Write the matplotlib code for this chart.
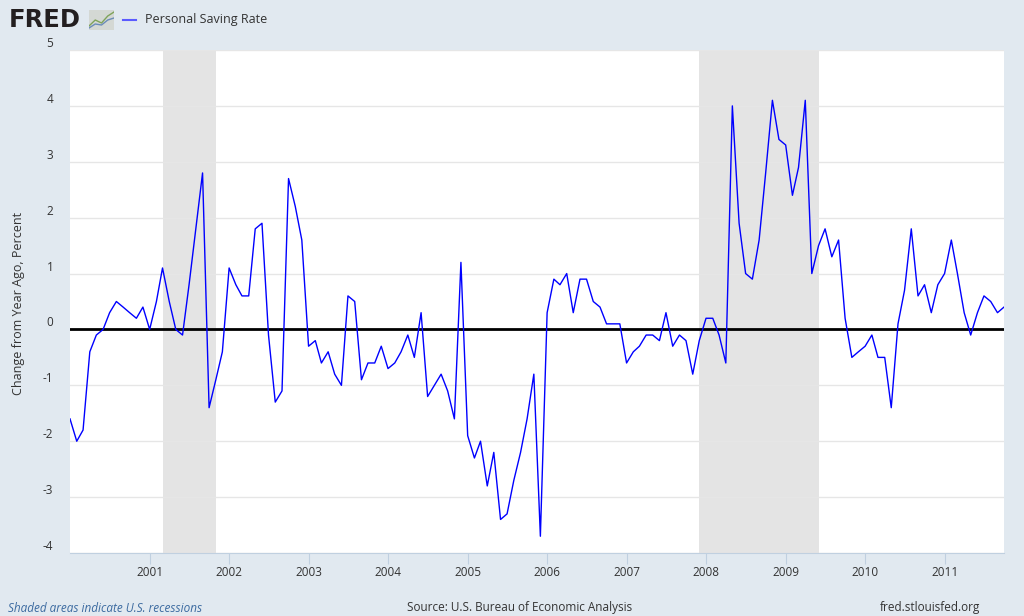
import matplotlib
matplotlib.use("Agg")
import matplotlib.pyplot as plt
import matplotlib.dates as mdates
import pandas as pd

# monthly values, Jan 2000 - Oct 2011
v2000 = [-1.6, -2.0, -1.8, -0.4, -0.1, 0.0, 0.3, 0.5, 0.4, 0.3, 0.2, 0.4]
v2001 = [0.0, 0.5, 1.1, 0.5, 0.0, -0.1, 0.8, 1.8, 2.8, -1.4, -0.9, -0.4]
v2002 = [1.1, 0.8, 0.6, 0.6, 1.8, 1.9, -0.1, -1.3, -1.1, 2.7, 2.2, 1.6]
v2003 = [-0.3, -0.2, -0.6, -0.4, -0.8, -1.0, 0.6, 0.5, -0.9, -0.6, -0.6, -0.3]
v2004 = [-0.7, -0.6, -0.4, -0.1, -0.5, 0.3, -1.2, -1.0, -0.8, -1.1, -1.6, 1.2]
v2005 = [-1.9, -2.3, -2.0, -2.8, -2.2, -3.4, -3.3, -2.7, -2.2, -1.6, -0.8, -3.7]
v2006 = [0.3, 0.9, 0.8, 1.0, 0.3, 0.9, 0.9, 0.5, 0.4, 0.1, 0.1, 0.1]
v2007 = [-0.6, -0.4, -0.3, -0.1, -0.1, -0.2, 0.3, -0.3, -0.1, -0.2, -0.8, -0.2]
v2008 = [0.2, 0.2, -0.1, -0.6, 4.0, 1.9, 1.0, 0.9, 1.6, 2.8, 4.1, 3.4]
v2009 = [3.3, 2.4, 2.9, 4.1, 1.0, 1.5, 1.8, 1.3, 1.6, 0.2, -0.5, -0.4]
v2010 = [-0.3, -0.1, -0.5, -0.5, -1.4, 0.1, 0.7, 1.8, 0.6, 0.8, 0.3, 0.8]
v2011 = [1.0, 1.6, 1.0, 0.3, -0.1, 0.3, 0.6, 0.5, 0.3, 0.4]

values = (v2000 + v2001 + v2002 + v2003 + v2004 + v2005 + v2006 + v2007
          + v2008 + v2009 + v2010 + v2011)
dates = pd.date_range("2000-01-01", periods=len(values), freq="MS")

recessions = [("2001-03-01", "2001-11-01"), ("2007-12-01", "2009-06-01")]
years = list(range(2001, 2012))
yticks = [-4, -3, -2, -1, 0, 1, 2, 3, 4, 5]

bg = "#e1e9f0"
txt = "#333333"
plt.rcParams["font.family"] = ["Open Sans", "DejaVu Sans"]

fig = plt.figure(figsize=(10.24, 6.16), dpi=100, facecolor=bg)
ax = fig.add_axes([70 / 1024, 63 / 616, 934 / 1024, 503 / 616])
ax.set_facecolor("white")

for start, end in recessions:
    ax.axvspan(pd.Timestamp(start), pd.Timestamp(end), color="#e4e4e4", lw=0, zorder=1)

ax.axhline(0, color="black", lw=2, zorder=3)
ax.plot(dates, values, color="#0000ff", lw=1, zorder=4)

ax.set_xlim(pd.Timestamp("2000-01-01"), pd.Timestamp("2011-10-01"))
ax.set_ylim(-4, 5)
ax.set_yticks(yticks)
ax.set_yticklabels([str(t) for t in yticks], fontsize=8.5, color=txt, va="bottom")
ax.grid(axis="y", color="#e6e6e6", lw=1, zorder=0)
ax.tick_params(axis="y", length=0, pad=12)

ax.set_xticks([pd.Timestamp(f"{y}-01-01") for y in years])
ax.xaxis.set_major_formatter(mdates.DateFormatter("%Y"))
ax.tick_params(axis="x", length=8, color="#c0d0e0", labelsize=8.5, labelcolor=txt, pad=1)

for s in ["top", "right", "left"]:
    ax.spines[s].set_visible(False)
ax.spines["bottom"].set_color("#c0d0e0")

fig.text(19 / 1024, 1 - 303 / 616, "Change from Year Ago, Percent", rotation=90,
         ha="center", va="center", fontsize=9, color=txt)

# FRED logo and legend
fig.text(9 / 1024, 1 - 20 / 616, "FRED", fontsize=17.5, fontweight="bold",
         family="DejaVu Sans", color="#231f20", va="center", ha="left")
icon = fig.add_axes([89 / 1024, 1 - 30 / 616, 25 / 1024, 20 / 616])
icon.set_facecolor("#d4d8d4")
icon.plot([0, 1, 2, 3, 4], [0.2, 0.5, 0.35, 0.7, 0.9], color="#7fa35a", lw=1)
icon.plot([0, 1, 2, 3, 4], [0.1, 0.3, 0.25, 0.5, 0.6], color="#6b8cb8", lw=1)
icon.set_xlim(0, 4)
icon.set_ylim(0, 1)
icon.set_xticks([])
icon.set_yticks([])
for s in icon.spines.values():
    s.set_visible(False)

fig.lines.append(plt.Line2D([123 / 1024, 136 / 1024], [1 - 20 / 616, 1 - 20 / 616],
                            color="#5b5bff", lw=1.5, transform=fig.transFigure))
fig.text(145 / 1024, 1 - 20 / 616, "Personal Saving Rate", fontsize=9,
         color=txt, va="center", ha="left")

fig.text(8 / 1024, 1 - 608 / 616, "Shaded areas indicate U.S. recessions", fontsize=8.5,
         color="#3b6aa0", style="italic", va="center", ha="left")
fig.text(520 / 1024, 1 - 607 / 616, "Source: U.S. Bureau of Economic Analysis",
         fontsize=8.5, color=txt, va="center", ha="center")
fig.text(980 / 1024, 1 - 608 / 616, "fred.stlouisfed.org", fontsize=8.5,
         color=txt, va="center", ha="right")

fig.savefig("out.png", dpi=100, facecolor=bg)
